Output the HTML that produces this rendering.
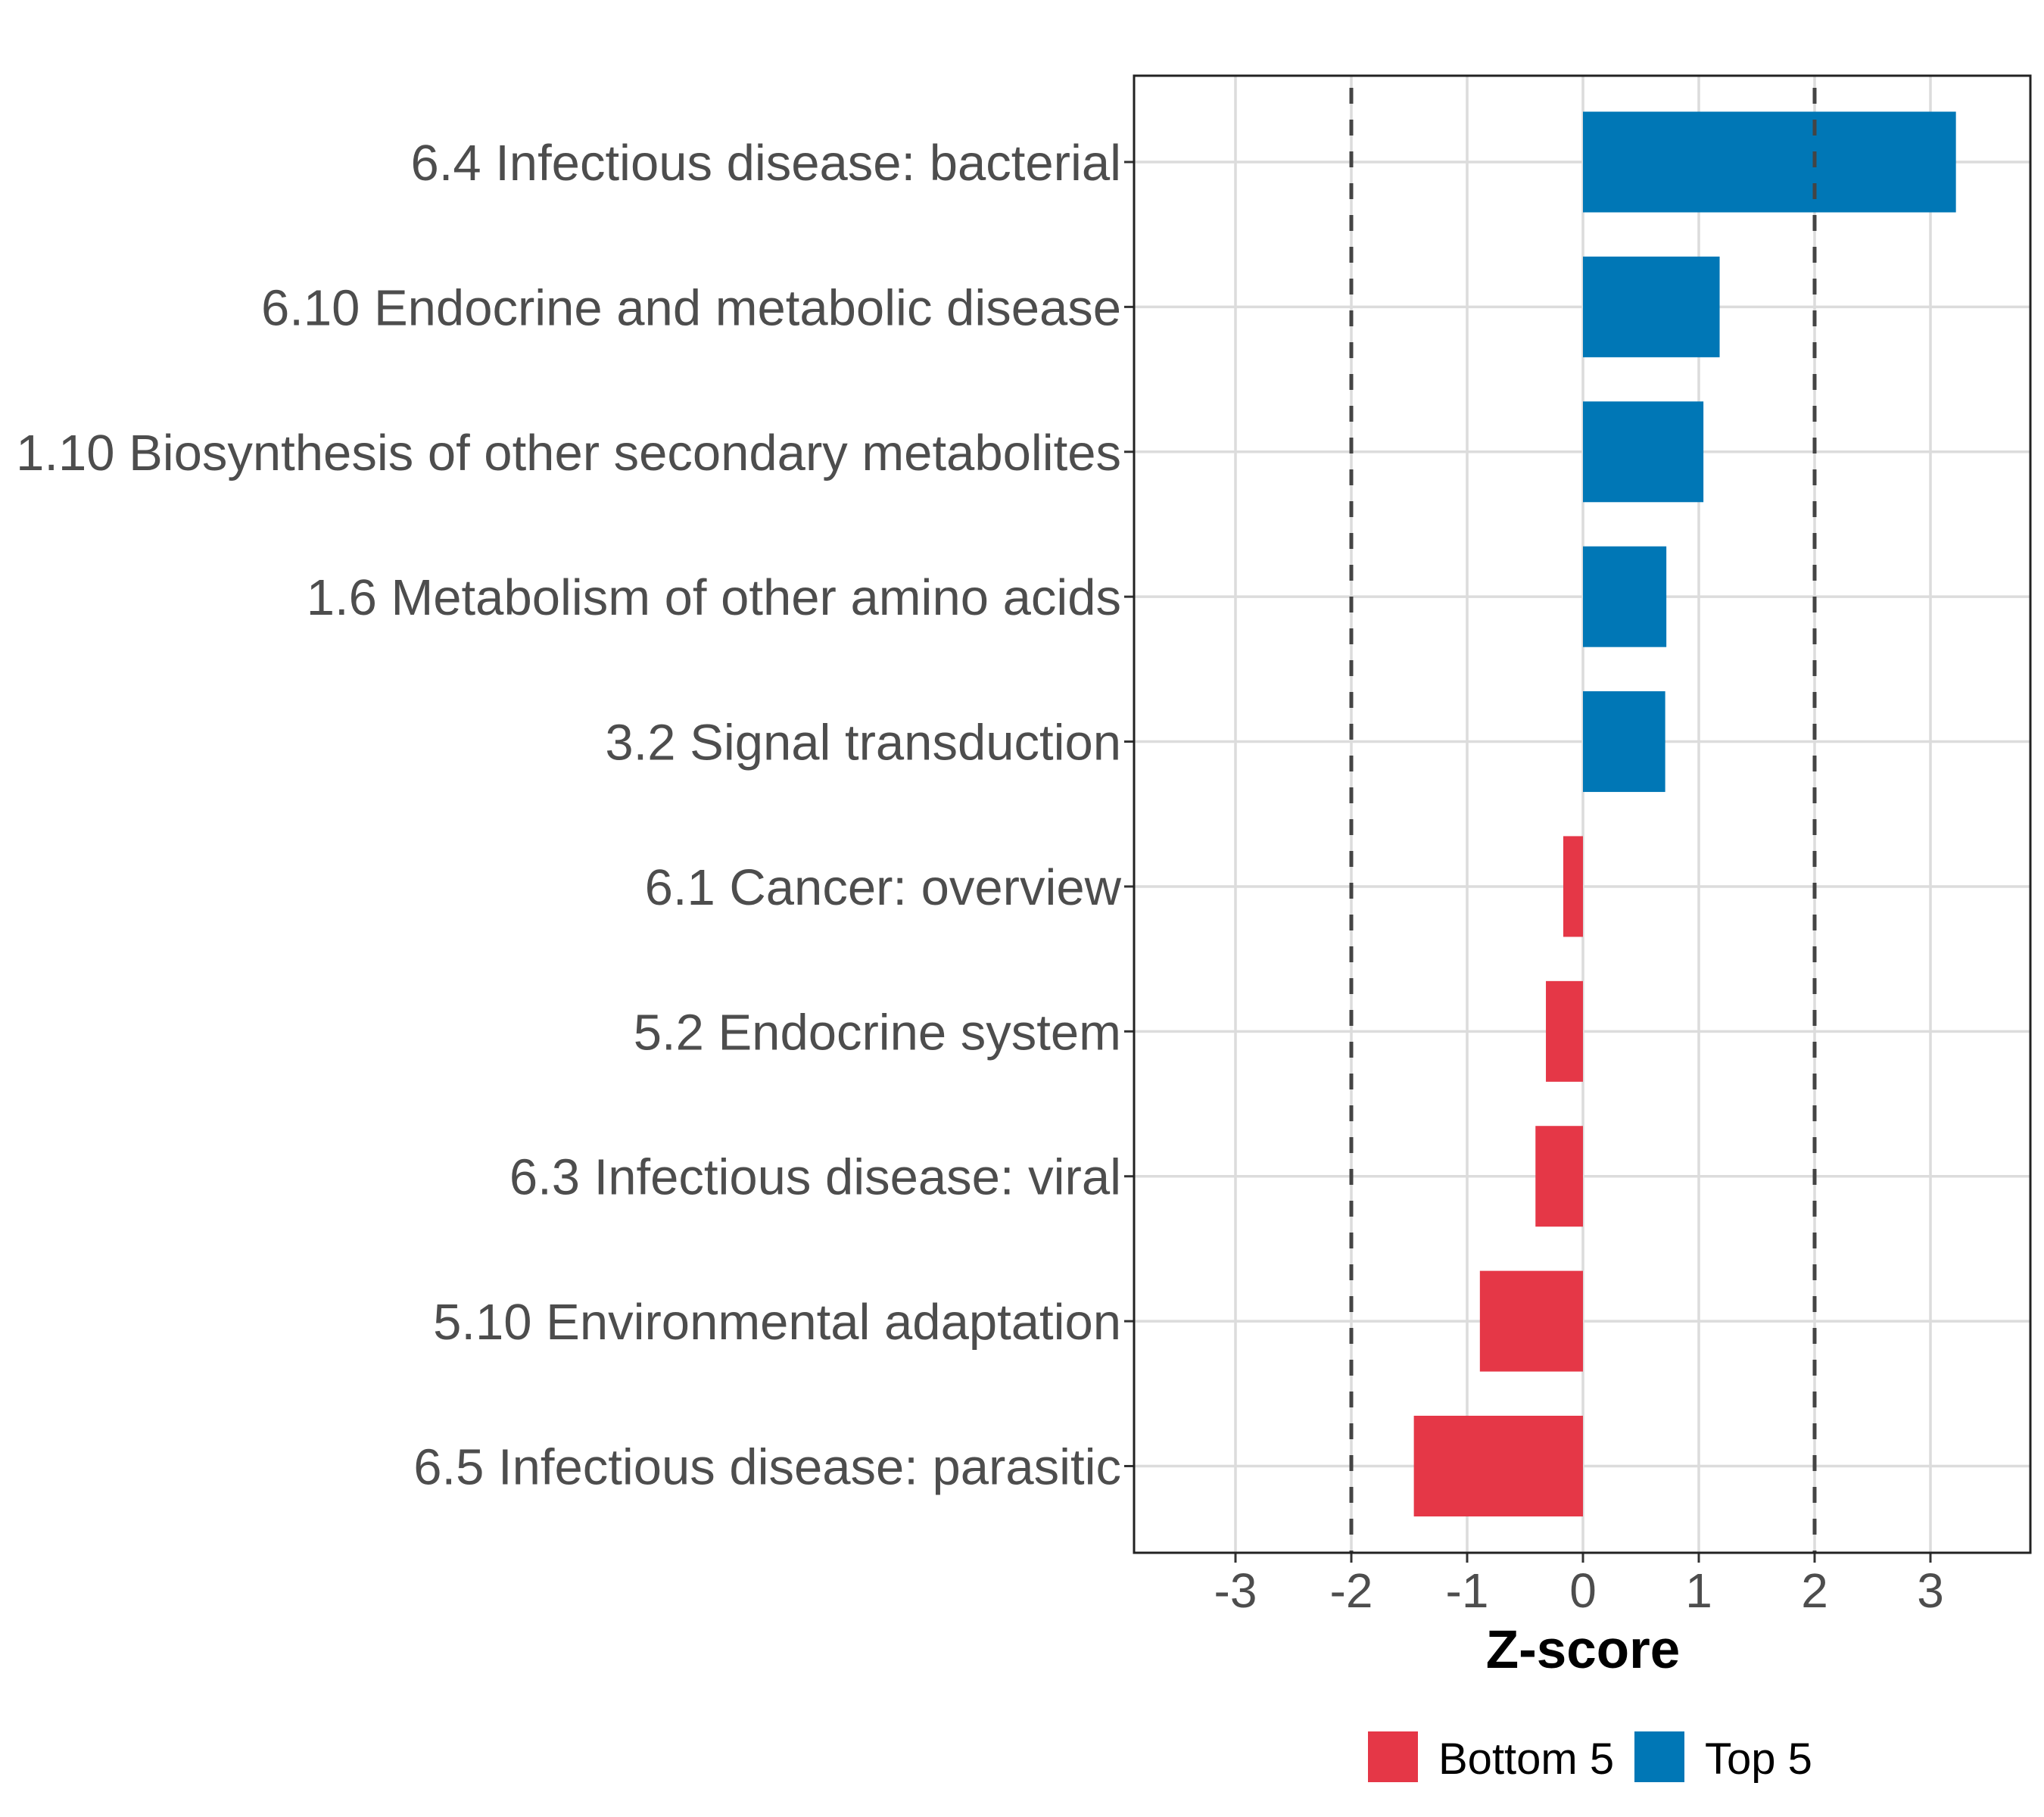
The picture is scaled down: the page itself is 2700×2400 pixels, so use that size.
<!DOCTYPE html>
<html><head><meta charset="utf-8"><style>
html,body{margin:0;padding:0;background:#fff;}
svg{display:block;font-family:"Liberation Sans",Arial,sans-serif;}
</style></head><body>
<svg id="chart" width="2700" height="2400" viewBox="0 0 2700 2400" xmlns="http://www.w3.org/2000/svg">
<rect width="2700" height="2400" fill="#fff"/>
<g id="grid"></g><g id="bars"></g><g id="ref"></g><g id="axes"></g>
<text x="2091" y="2203" text-anchor="middle" font-size="71" font-weight="bold" fill="#000">Z-score</text>
<g>
<rect x="1807" y="2287" width="66" height="67" fill="#E53747"/>
<text x="1900" y="2343" font-size="58" fill="#000">Bottom 5</text>
<rect x="2159" y="2287" width="66" height="67" fill="#0077B6"/>
<text x="2252" y="2343" font-size="58" fill="#000">Top 5</text>
</g>
</svg>
<script>
const categories = ["6.4 Infectious disease: bacterial","6.10 Endocrine and metabolic disease","1.10 Biosynthesis of other secondary metabolites","1.6 Metabolism of other amino acids","3.2 Signal transduction","6.1 Cancer: overview","5.2 Endocrine system","6.3 Infectious disease: viral","5.10 Environmental adaptation","6.5 Infectious disease: parasitic"];
const values = [3.22,1.18,1.04,0.72,0.71,-0.17,-0.32,-0.41,-0.89,-1.46];
const groups = ["Top 5","Top 5","Top 5","Top 5","Top 5","Bottom 5","Bottom 5","Bottom 5","Bottom 5","Bottom 5"];
const xTicks = [-3,-2,-1,0,1,2,3];
const refLines = [-2,2];

const NS="http://www.w3.org/2000/svg";
const L=1498,R=2682,T=100,B=2051;
const x0=2091,unit=153;
const xs=v=>x0+v*unit;
const rowTop=214,rowStep=(1936.5-214)/(categories.length-1);
const ys=i=>rowTop+i*rowStep;
const barH=133;
function mk(tag,attrs,parent){const e=document.createElementNS(NS,tag);for(const k in attrs)e.setAttribute(k,attrs[k]);parent.appendChild(e);return e;}
const grid=document.getElementById('grid'),bars=document.getElementById('bars'),ref=document.getElementById('ref'),axes=document.getElementById('axes');
mk('rect',{x:L,y:T,width:R-L,height:B-T,fill:'#fff'},grid);
xTicks.forEach(t=>{
  const g=mk('line',{x1:xs(t),x2:xs(t),y1:T,y2:B,stroke:'#dcdcdc','stroke-width':3.5},grid);
  
  
  const tk=mk('line',{x1:xs(t),x2:xs(t),y1:B,y2:B+13,stroke:'#333','stroke-width':3},axes);
  
  
  const tl=mk('text',{x:xs(t),y:2123,'text-anchor':'middle','font-size':64,fill:'#4d4d4d'},axes);
  tl.textContent=String(t);
  
  
});
categories.forEach((c,i)=>{
  const y=ys(i);
  const g=mk('line',{x1:L,x2:R,y1:y,y2:y,stroke:'#dcdcdc','stroke-width':3.5},grid);
  
  
  const v=values[i];
  const b=mk('rect',{x:Math.min(xs(0),xs(v)),y:y-barH/2,width:Math.abs(xs(v)-xs(0)),height:barH,fill:groups[i]==='Top 5'?'#0077B6':'#E53747'},bars);
  
  
  const tk=mk('line',{x1:L-13,x2:L,y1:y,y2:y,stroke:'#333','stroke-width':3},axes);
  
  
  const tl=mk('text',{x:1481,y:y+24,'text-anchor':'end','font-size':67,fill:'#4d4d4d'},axes);
  tl.textContent=c;
  
  
});
refLines.forEach(r=>{
  const l=mk('line',{x1:xs(r),x2:xs(r),y1:T,y2:B,stroke:'#444','stroke-width':5,'stroke-dasharray':'21 21','stroke-dashoffset':'-16'},ref);
  
  
});
const fr=mk('rect',{x:L,y:T,width:R-L,height:B-T,fill:'none',stroke:'#222','stroke-width':3},axes);


</script>
</body></html>
